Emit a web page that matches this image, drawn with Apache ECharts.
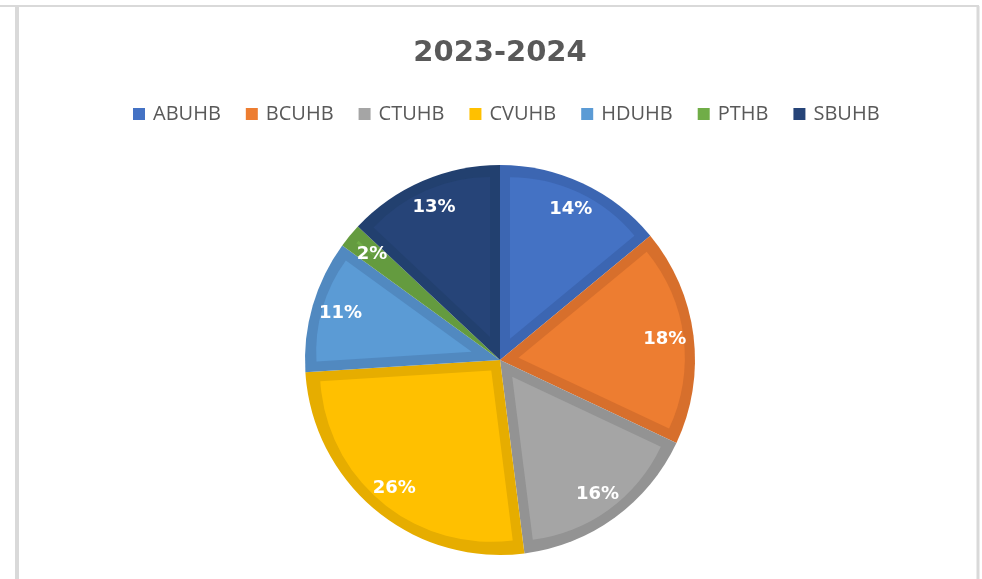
<!DOCTYPE html>
<html>
<head>
<meta charset="utf-8">
<script src="https://cdn.jsdelivr.net/npm/echarts@6/dist/echarts.min.js"></script>
<style>
  html, body { margin: 0; padding: 0; background: #fff; }
  #chart { width: 982px; height: 579px; }
</style>
</head>
<body>
<div id="chart"></div>
<script>
// data (percent of total)
const boards = ['ABUHB', 'BCUHB', 'CTUHB', 'CVUHB', 'HDUHB', 'PTHB', 'SBUHB'];
const shares = [14, 18, 16, 26, 11, 2, 13];

// office-style palette: fill and a darker edge tone
const fillColors = ['#4472C4', '#ED7D31', '#A5A5A5', '#FFC000', '#5B9BD5', '#70AD47', '#264478'];
const edgeColors = ['#3C66B2', '#D76F2C', '#939393', '#E6AD00', '#5189C0', '#649B3F', '#22406F'];

const chart = echarts.init(document.getElementById('chart'));

const center = [500, 360];
const outerR = 195;
const edgeW = 10;   // width of the darker inner edge of each slice
const total = shares.reduce((a, b) => a + b, 0);

// one pie per slice: only that slice is painted, pulled in along its bisector
// (selectedOffset) so its straight sides sit edgeW inside the dark slice below
const insetSeries = boards.map((name, k) => {
  const half = Math.PI * shares[k] / total;
  const shift = edgeW / Math.sin(half);
  return {
    name: 'inset-' + name,
    type: 'pie',
    z: 3,
    center: center,
    radius: Math.max(outerR - edgeW - shift, 0),
    startAngle: 90,
    clockwise: true,
    silent: true,
    selectedMode: 'single',
    selectedOffset: shift,
    label: { show: false },
    labelLine: { show: false },
    emphasis: { disabled: true },
    data: boards.map((n, i) => {
      const c = i === k ? fillColors[i] : 'rgba(0,0,0,0)';
      return {
        name: n,
        value: shares[i],
        selected: i === k,
        itemStyle: { color: c, borderWidth: 0 },
        select: { itemStyle: { color: c, borderWidth: 0 } }
      };
    })
  };
});

const option = {
  backgroundColor: '#fff',
  animation: false,
  title: {
    text: '2023-2024',
    left: 495,
    textAlign: 'center',
    top: 34,
    textStyle: {
      fontFamily: 'DejaVu Sans',
      fontWeight: 'bold',
      fontSize: 29,
      color: '#595959'
    }
  },
  legend: {
    top: 99,
    left: 128,
    icon: 'rect',
    itemWidth: 12,
    itemHeight: 12,
    itemGap: 25,
    data: boards.map((n, i) => ({ name: n, itemStyle: { color: fillColors[i] } })),
    textStyle: {
      fontFamily: 'Open Sans',
      fontSize: 20,
      color: '#595959',
      padding: [0, 0, 0, 3]
    }
  },
  graphic: [
    { type: 'line', shape: { x1: 0, y1: 6, x2: 979, y2: 6 }, style: { stroke: '#d9d9d9', lineWidth: 2 } },
    { type: 'line', shape: { x1: 17, y1: 6, x2: 17, y2: 579 }, style: { stroke: '#d9d9d9', lineWidth: 4 } },
    { type: 'line', shape: { x1: 978, y1: 6, x2: 978, y2: 579 }, style: { stroke: '#d9d9d9', lineWidth: 3 } }
  ],
  series: [
    {
      // darker full slices underneath
      name: 'edge',
      type: 'pie',
      z: 2,
      center: center,
      radius: outerR,
      startAngle: 90,
      clockwise: true,
      silent: true,
      label: { show: false },
      labelLine: { show: false },
      data: boards.map((n, i) => ({ name: n, value: shares[i], itemStyle: { color: edgeColors[i] } }))
    }
  ].concat(insetSeries, [
    {
      // percentage labels
      name: 'labels',
      type: 'pie',
      z: 4,
      center: center,
      radius: [130, 196],
      startAngle: 90,
      clockwise: true,
      silent: true,
      itemStyle: { color: 'rgba(0,0,0,0)' },
      label: {
        show: true,
        position: 'inside',
        formatter: '{c}%',
        color: '#fff',
        fontFamily: 'DejaVu Sans',
        fontWeight: 'bold',
        fontSize: 18
      },
      labelLine: { show: false },
      data: boards.map((name, i) => ({ name: name, value: shares[i] }))
    }
  ])
};

chart.setOption(option);
</script>
</body>
</html>
